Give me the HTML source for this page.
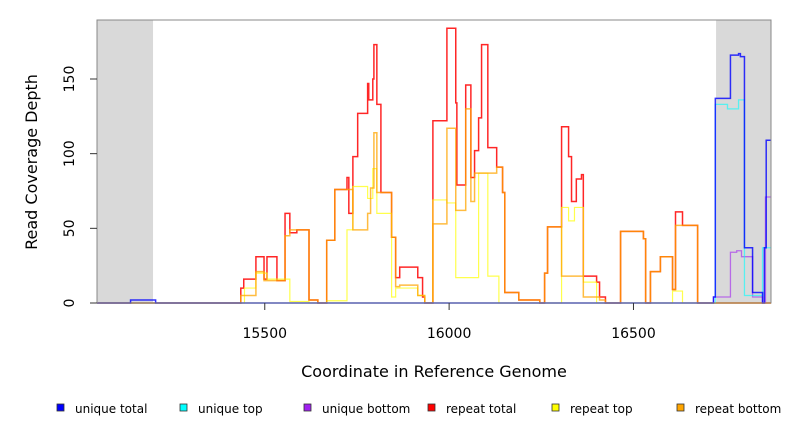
<!DOCTYPE html>
<html><head><meta charset="utf-8"><style>
body{margin:0;background:#fff;width:792px;height:432px;overflow:hidden;font-family:"DejaVu Sans","Liberation Sans",sans-serif}
svg{display:block}
</style></head><body>
<svg id="chart" width="792" height="432" xmlns="http://www.w3.org/2000/svg" font-family="DejaVu Sans, Liberation Sans, sans-serif">
<g id="plot"></g>
<g id="axes"></g>
<g id="legend"></g>
</svg>
<script>
const xTicks=[15500,16000,16500];
const yTicks=[0,50,100,150];
const shadeLeft=[15045,15197];
const shadeRight=[16724,16873];
const uniqueTotalX=[15045,15136,15204,16717,16722,16763,16785,16790,16801,16823,16850,16855,16860];
const uniqueTotalY=[0,2,0,4,137,166,167,165,37,7,0,37,109];
const uniqueTopX=[15045,16722,16755,16785,16801,16850];
const uniqueTopY=[0,133,130,136,5,37];
const uniqueBottomX=[15045,16717,16763,16780,16793,16823,16850,16858];
const uniqueBottomY=[0,4,34,35,31,4,0,71];
const repeatTotalX=[15045,15435,15443,15476,15498,15506,15533,15555,15568,15587,15620,15644,15668,15690,15723,15728,15739,15752,15779,15782,15793,15796,15804,15815,15844,15855,15866,15915,15928,15934,15956,15994,16018,16021,16045,16059,16069,16080,16088,16105,16129,16145,16151,16189,16246,16259,16267,16305,16324,16332,16345,16359,16364,16400,16408,16424,16465,16527,16533,16546,16573,16606,16614,16633,16674];
const repeatTotalY=[0,10,16,31,16,31,15,60,47,49,2,0,42,76,84,60,98,127,147,136,150,173,133,74,44,17,24,17,4,0,122,184,134,79,146,84,102,124,173,104,91,74,7,2,0,20,51,118,98,68,83,86,18,14,4,0,48,43,0,21,31,9,61,52,0];
const repeatTopX=[15045,15445,15476,15506,15568,15620,15668,15723,15739,15779,15793,15804,15844,15855,15915,15934,15956,15994,16018,16080,16105,16135,16305,16324,16340,16364,16400,16606,16633];
const repeatTopY=[0,10,20,16,1,0,1.5,49,78,70,90,60,4,10,5,0,69,67,17,87,18,0,64,55,64,14,0,8,0];
const repeatBottomX=[15045,15435,15476,15498,15555,15568,15620,15644,15668,15690,15739,15779,15787,15796,15804,15844,15855,15866,15915,15934,15956,15994,16018,16045,16059,16069,16129,16145,16151,16189,16246,16259,16267,16305,16364,16408,16424,16465,16527,16533,16546,16573,16606,16614,16674];
const repeatBottomY=[0,5,21,15,45,49,2,0,42,76,49,60,77,114,74,44,11,12,5,0,53,117,62,130,68,87,91,74,7,2,0,20,51,18,4,2,0,48,43,0,21,31,9,52,0];

const X0=97,X1=771,Y0=303,Y1=20,xmin=15045,xmax=16873,ymax=189.5;
const sx=v=>X0+(v-xmin)/(xmax-xmin)*(X1-X0);
const sy=v=>Y0-v/ymax*(Y0-Y1);
const NS="http://www.w3.org/2000/svg";
function mk(tag,attrs,parent){const e=document.createElementNS(NS,tag);for(const k in attrs)e.setAttribute(k,attrs[k]);parent.appendChild(e);return e;}
const plot=document.getElementById('plot'),axes=document.getElementById('axes'),legend=document.getElementById('legend');

let r=mk('rect',{x:sx(shadeLeft[0]),y:Y1,width:sx(shadeLeft[1])-sx(shadeLeft[0]),height:Y0-Y1,fill:'#d9d9d9'},plot);


r=mk('rect',{x:sx(shadeRight[0]),y:Y1,width:sx(shadeRight[1])-sx(shadeRight[0]),height:Y0-Y1,fill:'#d9d9d9'},plot);



function step(xs,ys,color,op,w,name){
  let d='M'+sx(xs[0])+','+sy(ys[0]);
  for(let i=0;i<xs.length;i++){
    const xe=i+1<xs.length?xs[i+1]:xmax;
    d+=' L'+sx(xs[i])+','+sy(ys[i])+' L'+sx(xe)+','+sy(ys[i]);
  }
  const p=mk('path',{d:d,fill:'none',stroke:color,'stroke-opacity':op,'stroke-width':w},plot);
  
  
}
step(repeatTotalX,repeatTotalY,'#ff0000',0.85,1.5,'repeat-total-line');
step(repeatTopX,repeatTopY,'#ffff00',0.7,1.2,'repeat-top-line');
step(repeatBottomX,repeatBottomY,'#ffa500',0.75,1.5,'repeat-bottom-line');
step(uniqueBottomX,uniqueBottomY,'#a020f0',0.6,1.3,'unique-bottom-line');
step(uniqueTopX,uniqueTopY,'#00ffff',0.6,1.3,'unique-top-line');
step(uniqueTotalX,uniqueTotalY,'#0000ff',0.8,1.5,'unique-total-line');

r=mk('rect',{x:X0,y:Y1,width:X1-X0,height:Y0-Y1,fill:'none',stroke:'#888','stroke-width':1},axes);



xTicks.forEach(v=>{
  const l=mk('line',{x1:sx(v),x2:sx(v),y1:Y0,y2:Y0+7,stroke:'#333'},axes);
  
  
  const t=mk('text',{x:sx(v),y:338,'font-size':14,'text-anchor':'middle',fill:'#000'},axes);
  t.textContent=v;
  
  
});
yTicks.forEach(v=>{
  const l=mk('line',{x1:X0-7,x2:X0,y1:sy(v),y2:sy(v),stroke:'#333'},axes);
  
  
  const t=mk('text',{x:0,y:0,'font-size':14,'text-anchor':'middle',fill:'#000',transform:'translate(74,'+sy(v)+') rotate(-90)'},axes);
  t.textContent=v;
  
  
});
let t=mk('text',{x:434,y:377,'font-size':16,'text-anchor':'middle'},axes);
t.textContent='Coordinate in Reference Genome';


t=mk('text',{x:0,y:0,'font-size':16,'text-anchor':'middle',transform:'translate(37,162) rotate(-90)'},axes);
t.textContent='Read Coverage Depth';



const legNames=['unique total','unique top','unique bottom','repeat total','repeat top','repeat bottom'];
const legColors=['#0000ff','#00ffff','#a020f0','#ff0000','#ffff00','#ffa500'];
const legX=[57,180,304,428,552,677];
legNames.forEach((n,i)=>{
  const g=mk('g',{},legend);
  
  
  mk('rect',{x:legX[i],y:404,width:7,height:7,fill:legColors[i],stroke:'#333','stroke-width':0.8},g);
  const tt=mk('text',{x:legX[i]+18,y:413,'font-size':12},g);
  tt.textContent=n;
});
</script>
</body></html>
